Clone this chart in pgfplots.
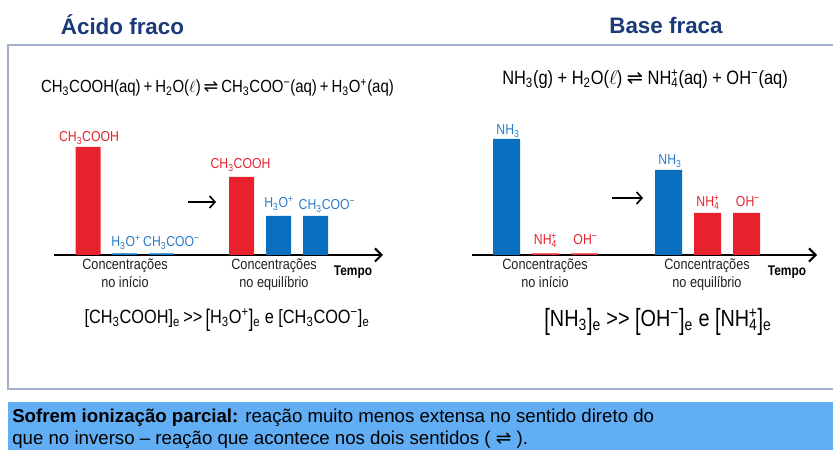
\documentclass[border=0pt]{standalone}
\usepackage{pgfplots}
\pgfplotsset{compat=1.18}
\usepackage{fontspec}
\usetikzlibrary{arrows.meta}
\setmainfont{Liberation Sans}
\newfontfamily\cond[FakeStretch=0.85]{Liberation Sans}
\newfontfamily\dv{DejaVu Sans}

\definecolor{barred}{HTML}{E8222C}
\definecolor{barblue}{HTML}{0A6FBE}
\definecolor{lblblue}{HTML}{2B7CC7}
\definecolor{navy}{HTML}{1B3A78}
\definecolor{framec}{HTML}{A3AFCB}
\definecolor{bandc}{HTML}{62AEF4}
\definecolor{txt}{HTML}{222222}

% sub + sup stacked
\newcommand\sbp[2]{\textsubscript{#1}\llap{\textsuperscript{#2}}}
\newcommand\eqarr{{\dv ⇌}}
% taller brackets
\newcommand\lb{\raisebox{-0.12em}{\scalebox{1}[1.25]{[}}}
\newcommand\rb{\raisebox{-0.12em}{\scalebox{1}[1.25]{]}}}

\pgfplotsset{
  quimica/.style={
    anchor=south west, x=0.75pt, y=0.75pt,
    ymin=0, ymax=125, enlargelimits=false, clip=false,
    axis x line=bottom, axis y line=none,
    xtick=\empty, ytick=\empty,
    x axis line style={line width=2pt, -{Straight Barb[length=5pt,width=10pt,line width=1.5pt]}},
  },
  barra/.style={ybar, bar shift=0pt, draw=none, fill=#1},
}
\tikzset{
  rotulo/.style={font=\cond\fontsize{10.8pt}{12pt}\selectfont, anchor=base, inner sep=0pt},
  baixo/.style={font=\cond\fontsize{11.2pt}{13pt}\selectfont, text=txt, align=center, anchor=north, inner sep=0pt},
  tempo/.style={font=\cond\bfseries\fontsize{10.5pt}{12pt}\selectfont, text=black, inner sep=0pt},
}

\begin{document}
\begin{tikzpicture}[x=0.75pt, y=0.75pt]
\path[fill=white] (0,0) rectangle (833,450);

% titulos
\node[font=\bfseries\fontsize{16.8pt}{19pt}\selectfont, text=navy] at (122.5,425) {Ácido fraco};
\node[font=\bfseries\fontsize{16.8pt}{19pt}\selectfont, text=navy] at (666,425) {Base fraca};

% moldura
\draw[framec, line width=1.5pt] (840,405) -- (8,405) -- (8,61) -- (840,61);

% faixa
\fill[bandc] (8,48) rectangle (840,-5);

% equacoes
\node[font=\cond\fontsize{13.2pt}{15pt}\selectfont] at (217.5,362)
  {CH\textsubscript{3}COOH(aq)\,+\,H\textsubscript{2}O($\ell$)\,\eqarr\,CH\textsubscript{3}COO\textsuperscript{−}(aq)\,+\,H\textsubscript{3}O\textsuperscript{+}(aq)};
\node[font=\cond\fontsize{14.5pt}{16pt}\selectfont] at (645,371)
  {NH\textsubscript{3}(g) + H\textsubscript{2}O($\ell$) \eqarr\ NH\sbp{4}{+}(aq) + OH\textsuperscript{−}(aq)};

% acido fraco
\begin{axis}[quimica, at={(54,195)}, xmin=54, xmax=383]
\addplot[barra=barred, bar width=25] coordinates {(88,108) (241.5,78)};
\addplot[barra=barblue, bar width=25] coordinates {(124.5,1.5) (161,1.5) (278.5,39) (315.5,39)};
\node[rotulo, text=barred] at (axis cs:89,113) {CH\textsubscript{3}COOH};
\node[rotulo, text=lblblue] at (axis cs:126,8) {H\textsubscript{3}O\textsuperscript{+}};
\node[rotulo, text=lblblue] at (axis cs:171.5,8) {CH\textsubscript{3}COO\textsuperscript{−}};
\node[rotulo, text=barred] at (axis cs:240.5,86) {CH\textsubscript{3}COOH};
\node[rotulo, text=lblblue] at (axis cs:279,47) {H\textsubscript{3}O\textsuperscript{+}};
\node[rotulo, text=lblblue] at (axis cs:327,45) {CH\textsubscript{3}COO\textsuperscript{−}};
\draw[line width=1.4pt, -{Straight Barb[length=4pt,width=9pt,line width=1.2pt]}] (axis cs:188,53) -- (axis cs:216,53);
\node[baixo] at (axis cs:125,-4) {Concentrações\\no início};
\node[baixo] at (axis cs:274,-4) {Concentrações\\no equilíbrio};
\node[tempo] at (axis cs:353,-17) {Tempo};
\end{axis}

% base fraca
\begin{axis}[quimica, at={(472,195)}, xmin=472, xmax=817]
\addplot[barra=barblue, bar width=27] coordinates {(506.5,116) (668.5,85)};
\addplot[barra=barred, bar width=27] coordinates {(545.5,1.5) (584.5,1.5) (707.5,42) (746.5,42)};
\node[rotulo, text=lblblue] at (axis cs:508,120) {NH\textsubscript{3}};
\node[rotulo, text=barred] at (axis cs:545.5,10) {NH\sbp{4}{+}};
\node[rotulo, text=barred] at (axis cs:585.5,10) {OH\textsuperscript{−}};
\node[rotulo, text=lblblue] at (axis cs:670,90) {NH\textsubscript{3}};
\node[rotulo, text=barred] at (axis cs:708,48) {NH\sbp{4}{+}};
\node[rotulo, text=barred] at (axis cs:748,48) {OH\textsuperscript{−}};
\draw[line width=1.4pt, -{Straight Barb[length=4pt,width=9pt,line width=1.2pt]}] (axis cs:612,57) -- (axis cs:643,57);
\node[baixo] at (axis cs:545,-4) {Concentrações\\no início};
\node[baixo] at (axis cs:707,-4) {Concentrações\\no equilíbrio};
\node[tempo] at (axis cs:787,-17) {Tempo};
\end{axis}

% relacoes
\node[font=\cond\fontsize{14.4pt}{16pt}\selectfont] at (227,130)
  {[CH\textsubscript{3}COOH]\textsubscript{e}\,>>\,\lb H\textsubscript{3}O\textsuperscript{+}\rb\textsubscript{e} e [CH\textsubscript{3}COO\textsuperscript{−}]\textsubscript{e}};
\node[font=\cond\fontsize{17.5pt}{19pt}\selectfont] at (658,128)
  {\lb NH\textsubscript{3}\rb\textsubscript{e} >> \lb OH\textsuperscript{−}\rb\textsubscript{e} e \lb NH\sbp{4}{+}\rb\textsubscript{e}};

% texto da faixa
\node[font=\fontsize{14pt}{16.5pt}\selectfont, anchor=base west, inner sep=0pt] at (12,27)
  {\textbf{Sofrem ionização parcial:} reação muito menos extensa no sentido direto do};
\node[font=\fontsize{14pt}{16.5pt}\selectfont, anchor=base west, inner sep=0pt] at (12,5)
  {que no inverso – reação que acontece nos dois sentidos ( {\dv ⇌} ).};

\pgfresetboundingbox
\useasboundingbox (0,0) rectangle (833,450);
\end{tikzpicture}
\end{document}
